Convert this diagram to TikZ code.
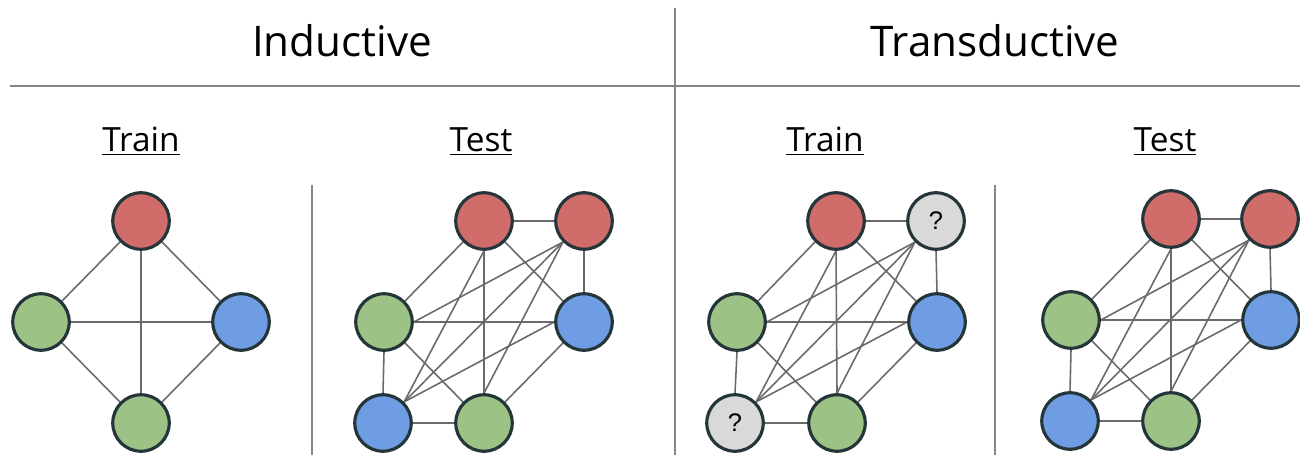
\documentclass[tikz,border=0pt]{standalone}
\usepackage{fontspec}
\setmainfont{Open Sans}
\newfontfamily\qfont{Liberation Sans}
\usetikzlibrary{backgrounds}

\definecolor{nodered}{HTML}{D06C69}
\definecolor{nodegreen}{HTML}{9DC285}
\definecolor{nodeblue}{HTML}{6F9DE3}
\definecolor{nodegrey}{HTML}{D9D9D9}
\definecolor{nodeline}{HTML}{25363A}
\definecolor{edgegrey}{HTML}{6A6A6A}
\definecolor{rulegrey}{HTML}{858585}

\begin{document}
\begin{tikzpicture}[x=0.02cm,y=-0.02cm,
  vert/.style={circle,draw=nodeline,line width=1.8pt,minimum size=1.13cm,inner sep=0pt,font=\qfont\fontsize{14.5}{16}\selectfont},
  red node/.style={vert,fill=nodered},
  green node/.style={vert,fill=nodegreen},
  blue node/.style={vert,fill=nodeblue},
  unknown node/.style={vert,fill=nodegrey},
  edge/.style={draw=edgegrey,line width=0.9pt},
  rule/.style={draw=rulegrey,line width=0.9pt},
  title/.style={anchor=base,font=\fontsize{24}{28}\selectfont},
  sub/.style={anchor=base,font=\fontsize{19}{22}\selectfont}]
\useasboundingbox (0,0) rectangle (1300,455);

% headings and dividers
\node[title] (ind) at (342,57) {Inductive};
\node[title] (trd) at (995,57) {Transductive};
\node[sub] (indtrain) at (141,152) {\underline{Train}};
\node[sub] (indtest) at (481,152) {\underline{Test}};
\node[sub] (trdtrain) at (825,152) {\underline{Train}};
\node[sub] (trdtest) at (1165,152) {\underline{Test}};
\draw[rule] (10,86) -- (1300,86);
\draw[rule] (675,8) -- (675,455);
\draw[rule] (312,185) -- (312,455);
\draw[rule] (995,185) -- (995,455);

% inductive, train
\node[red node] (itr-t) at (141,221) {};
\node[green node] (itr-l) at (41,322) {};
\node[blue node] (itr-r) at (241,322) {};
\node[green node] (itr-b) at (141,423) {};

% inductive, test
\node[red node] (ite-tl) at (484,221) {};
\node[red node] (ite-tr) at (584,221) {};
\node[green node] (ite-ml) at (384,322) {};
\node[blue node] (ite-mr) at (584,322) {};
\node[blue node] (ite-bl) at (383,423) {};
\node[green node] (ite-br) at (484,423) {};

% transductive, train
\node[red node] (ttr-tl) at (836,221) {};
\node[unknown node] (ttr-tr) at (936,221) {?};
\node[green node] (ttr-ml) at (737,322) {};
\node[blue node] (ttr-mr) at (937,322) {};
\node[unknown node] (ttr-bl) at (735,423) {?};
\node[green node] (ttr-br) at (837,423) {};

% transductive, test
\node[red node] (tte-tl) at (1171,219) {};
\node[red node] (tte-tr) at (1270,219) {};
\node[green node] (tte-ml) at (1071,320) {};
\node[blue node] (tte-mr) at (1271,320) {};
\node[blue node] (tte-bl) at (1070,421) {};
\node[green node] (tte-br) at (1171,421) {};

\begin{scope}[on background layer]
\draw[edge] (itr-t.south west) -- (itr-l.north east);
\draw[edge] (itr-t.south east) -- (itr-r.north west);
\draw[edge] (itr-t.south) -- (itr-b.north);
\draw[edge] (itr-l.east) -- (itr-r.west);
\draw[edge] (itr-l.south east) -- (itr-b.north west);
\draw[edge] (itr-r.south west) -- (itr-b.north east);
\foreach \g in {ite,ttr,tte} {
  \draw[edge] (\g-tl.east) -- (\g-tr.west);
  \draw[edge] (\g-tl.south west) -- (\g-ml.north east);
  \draw[edge] (\g-tl.south) -- (\g-bl.north east);
  \draw[edge] (\g-tl.south) -- (\g-br.north);
  \draw[edge] (\g-tl.south east) -- (\g-mr.north west);
  \draw[edge] (\g-tr.south west) -- (\g-ml.east);
  \draw[edge] (\g-tr.south west) -- (\g-bl.north east);
  \draw[edge] (\g-tr.south west) -- (\g-br.north);
  \draw[edge] (\g-tr.south) -- (\g-mr.north);
  \draw[edge] (\g-ml.east) -- (\g-mr.west);
  \draw[edge] (\g-ml.south) -- (\g-bl.north);
  \draw[edge] (\g-ml.south east) -- (\g-br.north west);
  \draw[edge] (\g-mr.west) -- (\g-bl.north east);
  \draw[edge] (\g-mr.south west) -- (\g-br.north east);
  \draw[edge] (\g-bl.east) -- (\g-br.west);
}
\end{scope}
\end{tikzpicture}
\end{document}
